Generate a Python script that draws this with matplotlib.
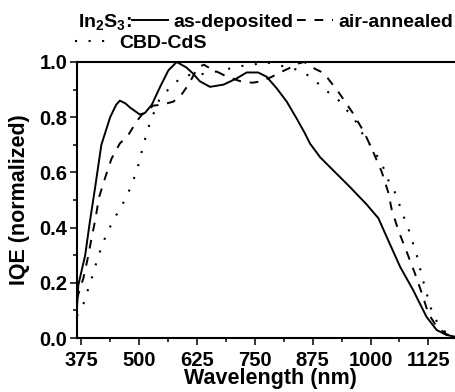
import matplotlib
matplotlib.use('Agg')
import matplotlib.pyplot as plt
from matplotlib.ticker import MultipleLocator

plt.rcParams['font.family'] = 'Liberation Sans'
plt.rcParams['font.weight'] = 'bold'
plt.rcParams['axes.labelweight'] = 'bold'
plt.rcParams['mathtext.fontset'] = 'custom'
plt.rcParams['mathtext.rm'] = 'Liberation Sans:bold'
plt.rcParams['mathtext.bf'] = 'Liberation Sans:bold'

# Dados
wl_asdep = [365, 368, 372, 383, 393, 404, 418, 437, 450, 458, 470, 480, 501, 512,
            527, 545, 563, 581, 602, 615, 631, 653, 682, 710, 732, 757, 775, 797,
            819, 840, 858, 869, 891, 919, 955, 991, 1017, 1038, 1064, 1092, 1121,
            1143, 1164, 1182, 1200]
iqe_asdep = [0.10, 0.19, 0.22, 0.30, 0.42, 0.54, 0.70, 0.80, 0.845, 0.86, 0.85, 0.835,
             0.81, 0.815, 0.845, 0.91, 0.97, 1.0, 0.98, 0.96, 0.93, 0.91, 0.918, 0.94,
             0.962, 0.962, 0.947, 0.905, 0.856, 0.796, 0.742, 0.705, 0.655, 0.608,
             0.548, 0.485, 0.434, 0.355, 0.258, 0.174, 0.077, 0.029, 0.011, 0.005, 0.002]

wl_air = [365, 372, 379, 388, 396, 405, 413, 426, 440, 458, 476, 494, 505, 530, 548,
          573, 588, 606, 620, 632, 640, 655, 674, 689, 721, 745, 761, 785, 808, 826,
          845, 856, 868, 880, 899, 932, 961, 986, 1004, 1024, 1038, 1046, 1060, 1078,
          1096, 1111, 1125, 1143, 1164, 1182, 1200]
iqe_air = [0.14, 0.18, 0.216, 0.285, 0.355, 0.43, 0.51, 0.58, 0.65, 0.705, 0.735, 0.784,
           0.808, 0.842, 0.845, 0.856, 0.874, 0.917, 0.96, 0.985, 0.99, 0.975, 0.96,
           0.947, 0.929, 0.925, 0.929, 0.945, 0.965, 0.979, 0.995, 1.0, 0.99, 0.975,
           0.96, 0.888, 0.817, 0.746, 0.681, 0.603, 0.53, 0.464, 0.391, 0.313, 0.234,
           0.162, 0.089, 0.041, 0.014, 0.005, 0.002]

wl_cds = [365, 378, 386, 395, 402, 411, 419, 430, 442, 457, 473, 484, 493, 500, 507,
          514, 522, 532, 543, 565, 590, 612, 631, 642, 665, 692, 718, 746, 772, 798,
          822, 847, 876, 901, 927, 945, 963, 984, 1002, 1024, 1040, 1056, 1065, 1083,
          1100, 1115, 1130, 1146, 1165, 1182, 1200]
iqe_cds = [0.08, 0.116, 0.16, 0.204, 0.246, 0.292, 0.334, 0.379, 0.42, 0.466, 0.512,
           0.56, 0.597, 0.64, 0.687, 0.73, 0.774, 0.818, 0.862, 0.905, 0.943, 0.955,
           0.955, 0.958, 0.965, 0.975, 0.985, 0.99, 1.0, 0.99, 0.98, 0.97, 0.94, 0.899,
           0.87, 0.832, 0.80, 0.736, 0.693, 0.633, 0.566, 0.518, 0.47, 0.39, 0.30,
           0.20, 0.11, 0.05, 0.016, 0.005, 0.002]

xticks = [375, 500, 625, 750, 875, 1000, 1125]

fig = plt.figure(figsize=(4.56, 3.92), dpi=100)
ax = fig.add_axes([77 / 456, 1 - 338 / 392, (463 - 77) / 456, (338 - 62) / 392])

l1, = ax.plot(wl_asdep, iqe_asdep, color='black', lw=1.4, label='as-deposited')
l2, = ax.plot(wl_air, iqe_air, color='black', lw=1.4, dashes=(4.5, 4.5), label='air-annealed')
l3, = ax.plot(wl_cds, iqe_cds, color='black', lw=1.5, dashes=(1.0, 5.5), label='CBD-CdS')

ax.set_xlim(365.3, 1200)
ax.set_ylim(0, 1.0)
ax.set_xticks(xticks)
ax.xaxis.set_minor_locator(MultipleLocator(62.5))
ax.yaxis.set_major_locator(MultipleLocator(0.2))
ax.yaxis.set_minor_locator(MultipleLocator(0.1))
ax.yaxis.set_major_formatter(plt.FormatStrFormatter('%.1f'))
ax.tick_params(which='major', direction='out', length=5, width=1.1, labelsize=14.5, pad=2)
ax.tick_params(axis='x', which='major', pad=4)
ax.tick_params(which='minor', direction='out', length=3, width=1.1)
ax.tick_params(top=False, right=False)
for s in ['left', 'bottom', 'top']:
    ax.spines[s].set_linewidth(1.5)
ax.spines['right'].set_visible(False)

ax.set_xlabel('Wavelength (nm)', fontsize=15.5, labelpad=-1)
ax.set_ylabel('IQE (normalized)', fontsize=15.5, labelpad=7)

# Legenda
fig.text(78 / 456, 1 - 23 / 392, r'In$_\mathbf{2}$S$_\mathbf{3}$:', fontsize=14,
         ha='left', va='center')
leg1 = ax.legend(handles=[l1, l2], ncol=2, loc='center left',
                 bbox_to_anchor=(132 / 456, 1 - 22 / 392), bbox_transform=fig.transFigure,
                 frameon=False, borderpad=0, borderaxespad=0, fontsize=14,
                 handlelength=1.85, handletextpad=0.3, columnspacing=0.15)
ax.add_artist(leg1)
ax.legend(handles=[l3], loc='center left',
          bbox_to_anchor=(75 / 456, 1 - 43 / 392), bbox_transform=fig.transFigure,
          frameon=False, borderpad=0, borderaxespad=0, fontsize=14,
          handlelength=1.95, handletextpad=0.3)

fig.savefig('out.png', dpi=100)
